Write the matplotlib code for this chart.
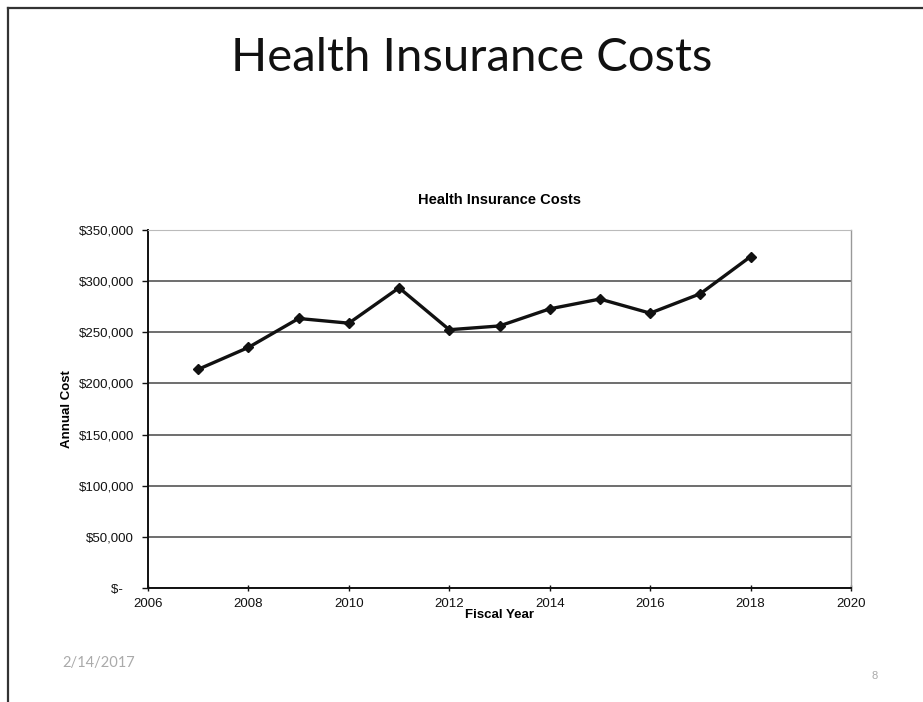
import matplotlib.pyplot as plt
from matplotlib.lines import Line2D
from matplotlib import ticker

plt.rcParams['font.family'] = ['Liberation Sans', 'DejaVu Sans']

# annual health insurance cost by fiscal year
years = [2007, 2008, 2009, 2010, 2011, 2012, 2013, 2014, 2015, 2016, 2017, 2018]
costs = [213800, 235200, 263500, 258900, 293500, 252500, 256200, 272900, 282500, 268700, 287700, 324000]

fig = plt.figure(figsize=(9.23, 7.02), dpi=100)

# slide frame (top and left edges)
fig.add_artist(Line2D([8/923, 1.0], [1 - 8/702, 1 - 8/702], color='#333333', lw=1.6, transform=fig.transFigure))
fig.add_artist(Line2D([8/923, 8/923], [0.0, 1 - 8/702], color='#333333', lw=1.6, transform=fig.transFigure))

# slide heading
fig.text(0.511, 0.918, 'Health Insurance Costs', ha='center', va='center',
         fontsize=34, family=['Lato', 'DejaVu Sans'], color='#111111')

ax = fig.add_axes([148/923, 114/702, 703/923, 358/702])
ax.plot(years, costs, color='#111111', lw=2.4, marker='D', markersize=5,
        markerfacecolor='#111111', markeredgecolor='#111111', zorder=3)

ax.set_xlim(2006, 2020)
ax.set_ylim(0, 350000)
ax.xaxis.set_major_locator(ticker.MultipleLocator(2))
ax.yaxis.set_major_locator(ticker.MultipleLocator(50000))
ax.yaxis.set_major_formatter(ticker.FuncFormatter(
    lambda v, p: '$-   ' if v == 0 else '${:,.0f}'.format(v)))

ax.grid(axis='y', color='#555555', lw=1.2)
ax.set_axisbelow(True)
for s in ['left', 'bottom']:
    ax.spines[s].set_color('#111111')
    ax.spines[s].set_linewidth(1.4)
ax.spines['right'].set_color('#999999')
ax.spines['right'].set_linewidth(1.0)
ax.spines['top'].set_color('#bbbbbb')
ax.spines['top'].set_linewidth(0.8)

ax.tick_params(axis='y', direction='out', length=4, width=1, pad=6, labelsize=9.5, colors='#111111')
ax.tick_params(axis='x', direction='inout', length=5, width=1, pad=5, labelsize=9.5, colors='#111111')

ax.set_title('Health Insurance Costs', fontsize=10.5, weight='bold', pad=19)
ax.set_ylabel('Annual Cost', fontsize=9.5, weight='bold')
ax.yaxis.set_label_coords(-0.107, 0.5)
ax.set_xlabel('Fiscal Year', fontsize=9.5, weight='bold', labelpad=-1)

# footer
fig.text(62/923, 1 - 663/702, '2/14/2017', fontsize=10.5, color='#aaaaaa', va='center',
         family=['Lato', 'DejaVu Sans'])
fig.text(872/923, 1 - 676/702, '8', fontsize=8, color='#aaaaaa', va='center')

plt.savefig('out.png', dpi=100)
